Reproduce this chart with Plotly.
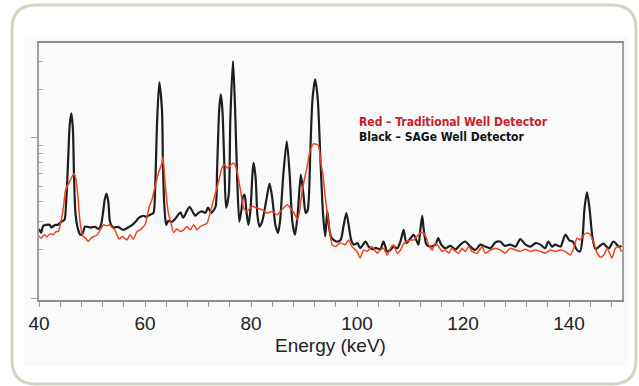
import plotly.graph_objects as go

# ---- data ----
black_energy = [40.0, 40.4, 40.8, 41.4, 42.0, 42.3, 43.1, 43.6, 44.2, 44.8, 45.1, 45.5, 45.8, 46.1, 46.4, 46.6,
                46.9, 47.4, 47.8, 48.2, 48.7, 49.7, 50.6, 51.2, 51.7, 52.1, 52.4, 52.74, 53.1, 53.4, 54.0, 54.9,
                55.9, 56.8, 57.6, 58.2, 58.9, 59.7, 60.2, 61.0, 61.6, 61.9, 62.3, 62.7, 63.2, 63.4, 63.7, 64.0,
                64.4, 65.1, 65.7, 66.7, 67.2, 68.4, 69.1, 69.5, 70.1, 70.7, 71.4, 71.9, 72.5, 73.3, 73.6, 74.0,
                74.3, 74.6, 75.0, 75.3, 75.8, 76.1, 76.6, 77.0, 77.4, 77.8, 78.2, 78.5, 78.8, 79.1, 79.5, 79.9,
                80.3, 80.5, 80.9, 81.2, 81.6, 82.1, 82.9, 83.5, 84.0, 84.6, 85.1, 85.5, 86.1, 86.75, 87.3, 87.8,
                88.3, 88.8, 89.4, 89.9, 90.3, 90.7, 91.2, 91.6, 92.1, 92.6, 93.1, 93.6, 94.0, 94.4, 94.8, 95.2,
                96.1, 96.9, 97.5, 98.0, 98.5, 98.9, 99.4, 100.1, 100.6, 101.6, 102.2, 103.1, 103.5, 104.4, 105.0,
                105.7, 106.3, 106.9, 107.6, 108.2, 108.8, 109.3, 110.1, 110.7, 111.3, 111.6, 111.95, 112.3, 112.6,
                113.1, 113.8, 114.8, 115.3, 115.9, 116.7, 117.6, 118.6, 119.5, 120.4, 121.4, 122.3, 123.3, 124.2,
                125.2, 126.1, 127.0, 127.9, 128.9, 129.9, 130.8, 131.8, 132.7, 133.7, 134.6, 135.5, 136.1, 136.8,
                137.4, 138.4, 139.3, 140.1, 140.7, 141.5, 142.1, 142.6, 142.9, 143.4, 143.9, 144.4, 145.0, 145.8,
                146.5, 147.5, 148.4, 149.4, 149.9]
black_counts = [271, 256, 283, 287, 287, 277, 287, 287, 300, 308, 383, 731, 1211, 1419, 1127, 590,
                332, 267, 249, 252, 280, 276, 279, 271, 287, 346, 411, 449, 394, 300, 276, 279,
                267, 276, 287, 300, 318, 327, 322, 332, 341, 475, 1301, 2216, 1502, 634, 356, 287,
                304, 300, 313, 343, 318, 372, 341, 327, 341, 348, 341, 367, 341, 372, 634, 1502,
                1865, 1502, 634, 367, 442, 1301, 3010, 1502, 548, 300, 356, 430, 442, 356, 287, 356,
                616, 698, 548, 332, 280, 300, 411, 518, 424, 287, 255, 308, 590, 952, 590, 300,
                249, 332, 590, 442, 341, 356, 845, 1734, 2312, 1734, 731, 332, 243, 348, 267, 238,
                226, 231, 287, 340, 276, 231, 216, 221, 205, 226, 210, 202, 206, 202, 226,
                196, 200, 210, 205, 226, 267, 221, 237, 249, 226, 216, 267, 327, 267,
                216, 210, 216, 237, 216, 205, 212, 202, 216, 226, 210, 200, 216, 210,
                205, 223, 226, 212, 216, 210, 234, 216, 210, 221, 216, 205, 226, 210,
                216, 210, 249, 229, 226, 200, 196, 249, 356, 457, 356, 243, 202, 212,
                219, 205, 226, 210, 212]

red_energy = [40.0, 40.4, 41.0, 41.5, 42.1, 42.7, 43.2, 43.7, 44.0, 44.4, 44.7, 44.95, 45.3, 45.7, 46.1, 46.6,
              46.9, 47.15, 47.4, 47.6, 47.97, 48.3, 48.8, 49.3, 49.85, 50.4, 51.0, 51.55, 52.2, 52.8, 53.3, 53.8,
              54.3, 54.7, 55.1, 55.7, 56.1, 56.6, 57.2, 57.8, 58.5, 59.1, 59.7, 60.0, 60.4, 60.8, 61.3, 61.9,
              62.55, 63.2, 63.4, 63.6, 63.8, 64.1, 64.4, 64.9, 65.4, 66.0, 66.65, 67.3, 67.9, 68.5, 69.2, 69.8,
              70.4, 71.05, 71.7, 72.2, 72.6, 73.3, 73.9, 74.5, 75.0, 75.5, 76.1, 76.7, 77.2, 77.5, 78.0, 78.6,
              79.2, 80.2, 81.1, 82.1, 83.0, 84.0, 84.9, 85.85, 86.8, 87.7, 88.4, 88.7, 89.1, 89.6, 90.06, 90.6,
              91.2, 91.8, 92.45, 92.8, 93.1, 93.6, 94.0, 94.65, 95.3, 95.9, 96.85, 97.8, 98.4, 99.06, 100.0,
              100.6, 101.25, 101.9, 102.8, 103.5, 103.8, 104.4, 105.0, 105.7, 106.3, 106.9, 107.55, 108.2,
              108.8, 109.4, 110.1, 110.7, 111.3, 111.95, 112.6, 113.1, 113.5, 114.2, 114.8, 115.4, 116.05,
              116.7, 117.3, 117.9, 118.6, 119.2, 119.8, 120.4, 121.1, 121.7, 122.65, 123.6, 124.2, 125.2,
              126.1, 127.05, 128.0, 128.9, 129.9, 130.8, 131.75, 132.7, 133.6, 134.6, 135.5, 136.5, 137.4,
              138.4, 139.3, 140.25, 140.9, 141.5, 142.1, 142.8, 143.4, 144.0, 144.7, 145.3, 145.95, 146.55,
              147.2, 148.1, 148.75, 149.4, 149.9]
red_counts = [245, 237, 249, 242, 252, 249, 260, 261, 287, 332, 392, 462, 498, 526, 562, 598,
              565, 498, 411, 332, 267, 243, 237, 226, 238, 243, 249, 267, 287, 283, 287, 276,
              267, 249, 234, 243, 238, 231, 249, 234, 261, 267, 280, 287, 324, 372, 411, 498,
              604, 698, 764, 634, 523, 411, 340, 294, 257, 270, 261, 267, 280, 267, 287, 267,
              280, 287, 294, 332, 374, 453, 536, 649, 681, 649, 671, 698, 652, 590, 475, 365,
              348, 374, 365, 356, 340, 348, 332, 356, 383, 356, 327, 308, 340, 453, 548, 665,
              845, 917, 908, 882, 731, 575, 431, 294, 216, 210, 221, 216, 231, 210, 196,
              178, 200, 196, 210, 196, 191, 200, 205, 186, 205, 216, 191, 200,
              219, 226, 231, 231, 243, 255, 255, 237, 216, 200, 221, 210, 196,
              200, 191, 205, 196, 191, 205, 196, 210, 196, 191, 210, 191, 200,
              205, 200, 191, 205, 200, 196, 202, 196, 200, 196, 191, 200, 196,
              200, 196, 186, 205, 237, 231, 249, 255, 249, 221, 191, 180, 186,
              205, 178, 205, 210, 195]

x_ticks = [40, 60, 80, 100, 120, 140]
x_title = "Energy (keV)"
legend_red = "Red – Traditional Well Detector"
legend_black = "Black – SAGe Well Detector"

# ---- geometry ----
W, H = 639, 386
ML, MR, MT, MB = 39, 17, 43, 86
PW, PH = W - ML - MR, H - MT - MB


def to_paper(px, py):
    return (px - ML) / PW, (H - MB - py) / PH


def rounded_rect_path(x0, y0, x1, y1, r):
    def p(px, py):
        a, b = to_paper(px, py)
        return f"{a:.5f},{b:.5f}"
    return (f"M {p(x0 + r, y0)} L {p(x1 - r, y0)} Q {p(x1, y0)} {p(x1, y0 + r)} "
            f"L {p(x1, y1 - r)} Q {p(x1, y1)} {p(x1 - r, y1)} L {p(x0 + r, y1)} "
            f"Q {p(x0, y1)} {p(x0, y1 - r)} L {p(x0, y0 + r)} Q {p(x0, y0)} {p(x0 + r, y0)} Z")


fig = go.Figure()
fig.add_trace(go.Scatter(x=black_energy, y=black_counts, mode="lines",
                         line=dict(color="#1e1e1e", width=2.2, shape="spline", smoothing=0.7),
                         showlegend=False))
fig.add_trace(go.Scatter(x=red_energy, y=red_counts, mode="lines",
                         line=dict(color="#ee4420", width=1.5, shape="spline", smoothing=0.5),
                         showlegend=False))

gx0, gy0 = to_paper(24, 37)
gx1, gy1 = to_paper(628, 366)
shapes = [
    dict(type="rect", xref="paper", yref="paper", x0=gx0, y0=gy1, x1=gx1, y1=gy0,
         fillcolor="#fafafa", line=dict(width=0), layer="below"),
    dict(type="path", xref="paper", yref="paper", path=rounded_rect_path(12, 5, 636, 384, 24),
         line=dict(color="#d4d2c0", width=3), fillcolor="rgba(0,0,0,0)", layer="below"),
]

lx, ly1 = to_paper(357, 122)
_, ly2 = to_paper(357, 137)
legend_font = "DejaVu Sans Condensed, Liberation Sans Narrow, Liberation Sans, sans-serif"
annotations = [
    dict(xref="paper", yref="paper", x=lx, y=ly1, xanchor="left", yanchor="middle", showarrow=False,
         text=legend_red, font=dict(family=legend_font, size=12, color="#c8202c", weight="bold")),
    dict(xref="paper", yref="paper", x=lx, y=ly2, xanchor="left", yanchor="middle", showarrow=False,
         text=legend_black, font=dict(family=legend_font, size=12, color="#111111", weight="bold")),
]

fig.update_layout(
    width=W, height=H,
    margin=dict(l=ML, r=MR, t=MT, b=MB, pad=0),
    paper_bgcolor="white", plot_bgcolor="rgba(0,0,0,0)",
    shapes=shapes, annotations=annotations,
    font=dict(family="Liberation Sans, Arial, sans-serif", color="#222222"),
    xaxis=dict(range=[40, 150], tickmode="array", tickvals=x_ticks, ticktext=[str(v) for v in x_ticks],
               showgrid=False, zeroline=False, showline=True, linecolor="#8c8c8c", linewidth=1.5, mirror=True,
               ticks="outside", ticklen=5, tickcolor="#9a9a9a", tickwidth=1,
               minor=dict(dtick=4, tick0=40, ticks="outside", ticklen=5, tickcolor="#9a9a9a", tickwidth=1,
                          showgrid=False),
               tickfont=dict(size=19, color="#222222"),
               title=dict(text=x_title, font=dict(size=19, color="#222222"), standoff=6)),
    yaxis=dict(type="log", range=[1.9894, 3.591], tickmode="array", tickvals=[100, 1000], ticktext=["", ""],
               showticklabels=False, showgrid=False, zeroline=False, showline=True, linecolor="#a0a0a0",
               linewidth=1.5, mirror=True, ticks="outside", ticklen=6, tickcolor="#a0a0a0", tickwidth=1,
               minor=dict(tickmode="array",
                          tickvals=[200, 300, 400, 500, 600, 700, 800, 900, 2000, 3000],
                          ticks="inside", ticklen=4, tickcolor="#a8a8a8", tickwidth=1, showgrid=False)),
)

fig.write_html("out.html")
